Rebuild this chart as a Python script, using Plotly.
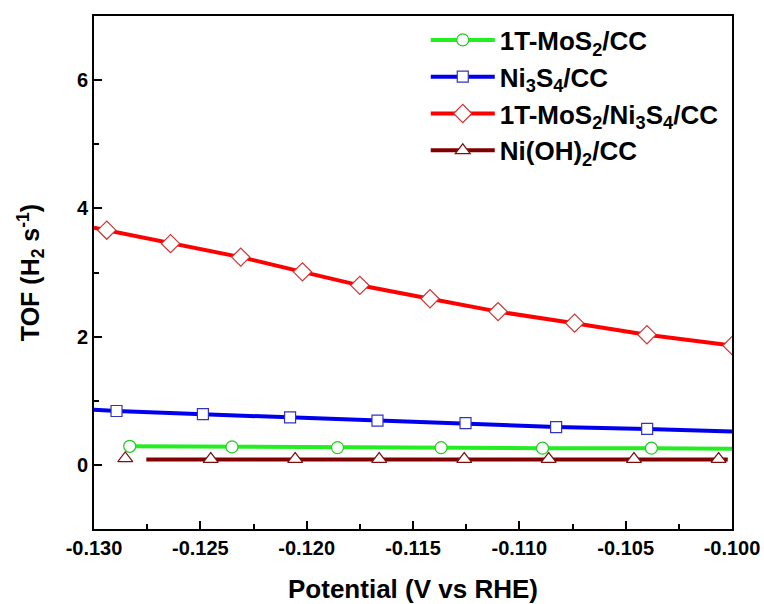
import plotly.graph_objects as go

# ---------------- data ----------------
names = ["1T-MoS<sub>2</sub>/CC", "Ni<sub>3</sub>S<sub>4</sub>/CC",
         "1T-MoS<sub>2</sub>/Ni<sub>3</sub>S<sub>4</sub>/CC", "Ni(OH)<sub>2</sub>/CC"]

# 1T-MoS2/CC
mos2_line_x = [-0.12832, -0.12351, -0.11855, -0.11368, -0.10891, -0.10379, -0.1000]
mos2_line_y = [0.29, 0.28, 0.27, 0.27, 0.26, 0.26, 0.25]
mos2_mark_x = [-0.12832, -0.12351, -0.11855, -0.11368, -0.10891, -0.10379]
mos2_mark_y = [0.29, 0.28, 0.27, 0.27, 0.26, 0.26]

# Ni3S4/CC
ni3s4_line_x = [-0.1300, -0.12894, -0.12488, -0.12078, -0.11667, -0.11253, -0.10827, -0.10399, -0.1000]
ni3s4_line_y = [0.86, 0.84, 0.79, 0.74, 0.69, 0.65, 0.59, 0.56, 0.52]
ni3s4_mark_x = [-0.12894, -0.12488, -0.12078, -0.11667, -0.11253, -0.10827, -0.10399]
ni3s4_mark_y = [0.84, 0.79, 0.74, 0.69, 0.65, 0.59, 0.56]

# 1T-MoS2/Ni3S4/CC
comp_line_x = [-0.1300, -0.12940, -0.12640, -0.12310, -0.12020, -0.11750, -0.11420, -0.11100,
               -0.10740, -0.10400, -0.1000]
comp_line_y = [3.70, 3.66, 3.45, 3.24, 3.01, 2.80, 2.59, 2.39, 2.21, 2.03, 1.86]
comp_mark_x = [-0.12940, -0.12640, -0.12310, -0.12020, -0.11750, -0.11420, -0.11100,
               -0.10740, -0.10400, -0.1000]
comp_mark_y = [3.66, 3.45, 3.24, 3.01, 2.80, 2.59, 2.39, 2.21, 2.03, 1.86]

# Ni(OH)2/CC
nioh_line_x = [-0.12754, -0.12451, -0.12054, -0.11659, -0.11259, -0.10862, -0.10461, -0.10063, -0.1002]
nioh_line_y = [0.085, 0.085, 0.085, 0.085, 0.085, 0.085, 0.085, 0.085, 0.085]
nioh_mark_x = [-0.12853, -0.12451, -0.12054, -0.11659, -0.11259, -0.10862, -0.10461, -0.10063]
nioh_mark_y = [0.10, 0.09, 0.09, 0.09, 0.09, 0.09, 0.09, 0.09]

x_tickvals = [-0.130, -0.125, -0.120, -0.115, -0.110, -0.105, -0.100]
x_ticktext = ["-0.130", "-0.125", "-0.120", "-0.115", "-0.110", "-0.105", "-0.100"]
y_tickvals = [0, 2, 4, 6]

# ---------------- styles ----------------
series = [
    dict(name=names[0], lx=mos2_line_x, ly=mos2_line_y, mx=mos2_mark_x, my=mos2_mark_y,
         color="#22ee22", mline="#22cc22", symbol="circle", size=12),
    dict(name=names[1], lx=ni3s4_line_x, ly=ni3s4_line_y, mx=ni3s4_mark_x, my=ni3s4_mark_y,
         color="#0000ee", mline="#3333bb", symbol="square", size=11),
    dict(name=names[2], lx=comp_line_x, ly=comp_line_y, mx=comp_mark_x, my=comp_mark_y,
         color="#ff0000", mline="#cc3333", symbol="diamond", size=14),
    dict(name=names[3], lx=nioh_line_x, ly=nioh_line_y, mx=nioh_mark_x, my=nioh_mark_y,
         color="#800000", mline="#7a1010", symbol="triangle-up", size=13),
]

fig = go.Figure()
for i, s in enumerate(series):
    fig.add_trace(go.Scatter(x=s["lx"], y=s["ly"], mode="lines",
                             line=dict(color=s["color"], width=4),
                             showlegend=False, hoverinfo="skip"))
for i, s in enumerate(series):
    fig.add_trace(go.Scatter(x=s["mx"], y=s["my"], mode="markers",
                             marker=dict(symbol=s["symbol"], size=s["size"], color="white",
                                         line=dict(color=s["mline"], width=1.2)),
                             showlegend=False))
for i, s in enumerate(series):
    fig.add_trace(go.Scatter(x=[None], y=[None], mode="lines+markers", name=s["name"],
                             legendgroup=str(i),
                             line=dict(color=s["color"], width=4),
                             marker=dict(symbol=s["symbol"], size=s["size"], color="white",
                                         line=dict(color=s["mline"], width=1.2))))

axis_common = dict(showline=True, linewidth=2, linecolor="black", mirror=True,
                   ticks="inside", tickwidth=1.5, ticklen=8, tickcolor="black",
                   showgrid=False, zeroline=False, automargin=False,
                   tickfont=dict(family="Liberation Sans", size=20, color="black", weight="bold"))

fig.update_xaxes(range=[-0.130, -0.100], tickvals=x_tickvals, ticktext=x_ticktext,
                 minor=dict(ticks="inside", ticklen=5, tickwidth=1.5, tickcolor="black", dtick=0.0025,
                            tick0=-0.130, showgrid=False),
                 title=dict(text="Potential (V vs RHE)", standoff=22,
                            font=dict(family="Liberation Sans", size=26, color="black", weight="bold")),
                 **axis_common)
fig.update_yaxes(range=[-1, 7], tickvals=y_tickvals,
                 minor=dict(ticks="inside", ticklen=5, tickwidth=1.5, tickcolor="black", dtick=1,
                            tick0=-1, showgrid=False),
                 title=dict(text="TOF (H<sub>2</sub> s<sup>-1</sup>)", standoff=30,
                            font=dict(family="Liberation Sans", size=25, color="black", weight="bold")),
                 **axis_common)

fig.update_layout(
    width=764, height=604,
    margin=dict(l=94, r=32, t=16, b=75),
    paper_bgcolor="white", plot_bgcolor="white",
    legend=dict(x=0.520, y=0.999, xanchor="left", yanchor="top",
                bgcolor="rgba(0,0,0,0)", itemwidth=64, traceorder="grouped", tracegroupgap=0,
                font=dict(family="Liberation Sans", size=26, color="black", weight="bold")),
)

fig.write_html("out.html",
               post_script="document.body.style.margin='0';document.body.style.overflow='hidden';")
